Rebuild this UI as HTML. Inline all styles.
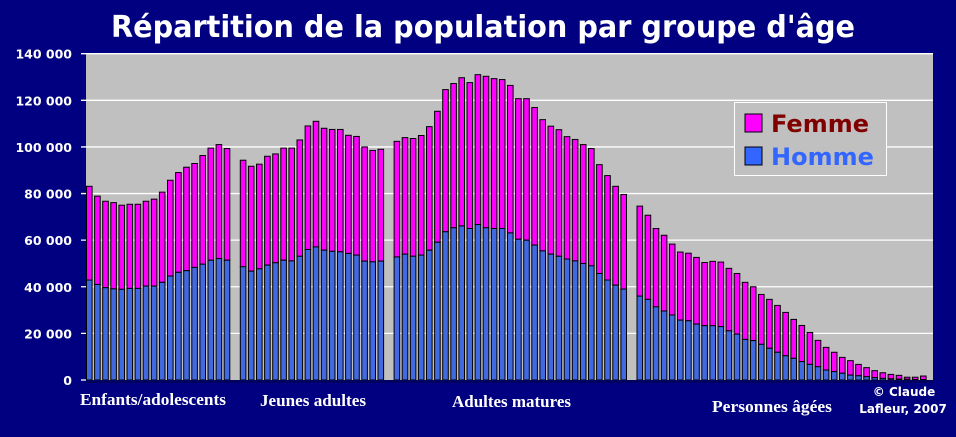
<!DOCTYPE html>
<html><head><meta charset="utf-8"><style>
html,body{margin:0;padding:0;background:#000080;}
svg{display:block;}
</style></head><body>
<svg width="956" height="437" viewBox="0 0 956 437" xmlns="http://www.w3.org/2000/svg">
<rect x="0" y="0" width="956" height="437" fill="#000080"/>
<text x="483" y="37" text-anchor="middle" textLength="744" lengthAdjust="spacingAndGlyphs" fill="#fff" font-family="'DejaVu Sans', 'Liberation Sans', sans-serif" font-weight="bold" font-size="30">Répartition de la population par groupe d'âge</text>
<rect x="86" y="54" width="847" height="326" fill="#c0c0c0"/>
<g id="grid"></g>
<g id="bars"></g>
<rect x="86" y="380" width="847" height="3" fill="#000060"/>
<g id="ylabels"></g>
<g font-family="'Liberation Serif', serif" font-weight="bold" font-size="17" fill="#fff">
<text x="80" y="405" textLength="146" lengthAdjust="spacingAndGlyphs">Enfants/adolescents</text>
<text x="260" y="406" textLength="106" lengthAdjust="spacingAndGlyphs">Jeunes adultes</text>
<text x="452" y="407" textLength="119" lengthAdjust="spacingAndGlyphs">Adultes matures</text>
<text x="712" y="412" textLength="120" lengthAdjust="spacingAndGlyphs">Personnes âgées</text>
</g>
<g font-family="'DejaVu Sans', 'Liberation Sans', sans-serif" font-weight="bold" font-size="12" fill="#fff" text-anchor="middle">
<text x="904" y="396">© Claude</text>
<text x="903" y="413">Lafleur, 2007</text>
</g>
<g>
<rect x="734.5" y="102.5" width="152" height="73" fill="#c0c0c0" stroke="#fff" stroke-width="1"/>
<rect x="745" y="114" width="17" height="18" fill="#ff00ff" stroke="#000" stroke-width="1"/>
<text x="771" y="132" fill="#800000" font-family="'DejaVu Sans', 'Liberation Sans', sans-serif" font-weight="bold" font-size="24">Femme</text>
<rect x="745" y="147" width="17" height="18" fill="#3366ff" stroke="#000" stroke-width="1"/>
<text x="771" y="165" fill="#3366ff" font-family="'DejaVu Sans', 'Liberation Sans', sans-serif" font-weight="bold" font-size="24">Homme</text>
</g>
</svg>
<script>
const groupSizes = [18, 18, 29, 36];
const totals = [
83.1,78.9,76.7,76.1,75,75.4,75.4,76.7,77.6,80.6,85.7,89,91.3,92.9,96.3,99.5,101,99.3,
94.3,91.7,92.6,96,97,99.5,99.5,103,109,111,108,107.5,107.5,105,104.5,100,98.5,99,
102.4,104,103.6,104.9,108.7,115.3,124.6,127.2,129.7,127.6,131,130.3,129.3,128.9,126.4,120.7,120.7,116.9,111.7,108.9,107.4,104.4,103.2,101,99.3,92.4,87.7,83.1,79.6,
74.6,70.7,65,62.1,58.3,54.9,54.4,52.6,50.4,50.9,50.6,47.9,45.7,41.9,40,36.7,34.6,32,29,26,23.4,20.4,17,14,11.9,9.7,8.3,6.7,5.3,4,3.1,2.4,2,1.2,1.2,1.7
];
const homme = [
42.9,41,39.6,39.1,38.9,39.3,39.3,40.3,40.3,41.9,44.6,46.2,46.9,48.3,49.7,51.4,52.1,51.4,
48.6,46.7,47.7,49.3,50.3,51.4,51.1,53.1,56,57.1,55.7,55.2,55,54.3,53.6,51,50.7,51,
52.8,54,53.1,53.6,55.7,59.1,63.6,65.3,66.1,65,66.7,65.3,65,65,63.1,60.4,60,57.9,55.4,54,53.1,51.9,51.1,50,49,45.7,42.9,40.7,39,
36,34.6,31.4,29.6,27.9,25.7,25.4,24,23.3,23.3,22.9,21.1,19.7,17.4,16.9,15.3,13.6,11.9,10.4,9.3,7.9,6.7,5.7,4.3,3.6,2.9,2.1,1.8,1.4,1,0.7,0.5,0.4,0.3,0.2,0.2
];
const yTicks = [0,20000,40000,60000,80000,100000,120000,140000];
const yTickLabels = ["0","20 000","40 000","60 000","80 000","100 000","120 000","140 000"];

const NS = "http://www.w3.org/2000/svg";
const Y0 = 380, Y1 = 53.7, YMAX = 140000;
function yScale(v){ return Y0 - (v / YMAX) * (Y0 - Y1); }
const PITCH = 8.1, GAP = 8, X0 = 86;
function xScale(i){
  let g = 0, acc = 0;
  while (g < groupSizes.length - 1 && i >= acc + groupSizes[g]) { acc += groupSizes[g]; g++; }
  return X0 + i * PITCH + g * GAP;
}
const grid = document.getElementById('grid');
const ylab = document.getElementById('ylabels');
yTicks.forEach((t, k) => {
  const y = yScale(t);
  const ln = document.createElementNS(NS, 'line');
  ln.setAttribute('x1', 81); ln.setAttribute('x2', k === 0 ? 86 : 933);
  ln.setAttribute('y1', y); ln.setAttribute('y2', y);
  ln.setAttribute('stroke', '#fff'); ln.setAttribute('stroke-width', '1.3');
  
  
  grid.appendChild(ln);
  const tx = document.createElementNS(NS, 'text');
  tx.setAttribute('x', 72); tx.setAttribute('y', y + 5);
  tx.setAttribute('text-anchor', 'end'); tx.setAttribute('fill', '#fff');
  tx.setAttribute('font-family', "'DejaVu Sans', 'Liberation Sans', sans-serif");
  tx.setAttribute('font-weight', 'bold'); tx.setAttribute('font-size', '12.5');
  tx.textContent = yTickLabels[k];
  
  
  ylab.appendChild(tx);
});
const bars = document.getElementById('bars');
totals.forEach((tot, i) => {
  const x = xScale(i);
  const h = homme[i] * 1000, t = tot * 1000;
  const rf = document.createElementNS(NS, 'rect');
  rf.setAttribute('x', x + 0.5); rf.setAttribute('width', 5.6);
  rf.setAttribute('y', yScale(t)); rf.setAttribute('height', Math.max(0, yScale(h) - yScale(t)));
  rf.setAttribute('fill', '#ff00ff'); rf.setAttribute('stroke', '#000'); rf.setAttribute('stroke-width', '1');
  
  
  bars.appendChild(rf);
  const rh = document.createElementNS(NS, 'rect');
  rh.setAttribute('x', x + 0.5); rh.setAttribute('width', 5.6);
  rh.setAttribute('y', yScale(h)); rh.setAttribute('height', Y0 - yScale(h));
  rh.setAttribute('fill', '#4169e1'); rh.setAttribute('stroke', '#000'); rh.setAttribute('stroke-width', '1');
  
  
  bars.appendChild(rh);
});
</script>
</body></html>
